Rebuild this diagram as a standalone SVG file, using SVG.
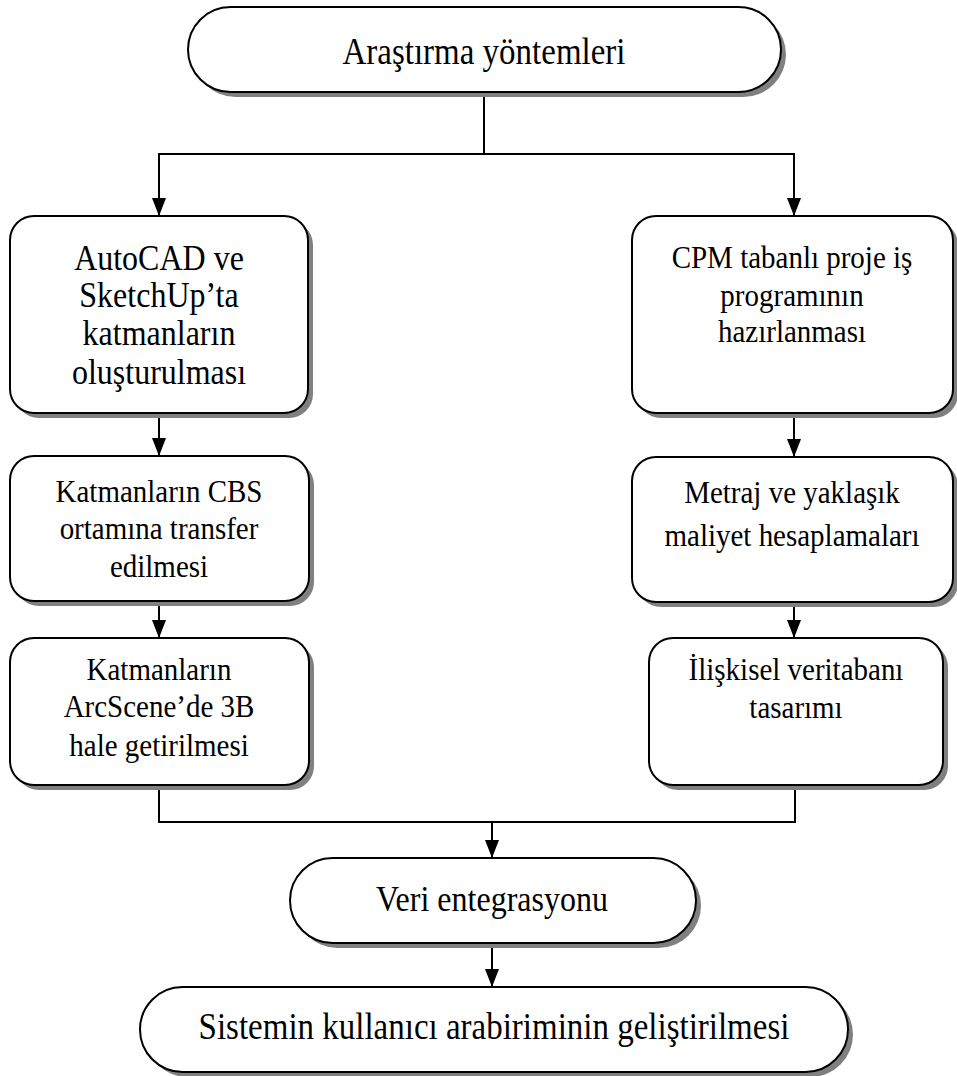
<svg xmlns="http://www.w3.org/2000/svg" width="957" height="1076" viewBox="0 0 957 1076">
  <style>
    .box { fill: #ffffff; stroke: #000000; stroke-width: 2; }
    .shadow { fill: #808080; stroke: none; }
    .lbl { font-family: "Liberation Serif", "Times New Roman", serif; fill: #000000; text-anchor: middle; }
    .f33 { font-size: 33px; }
    .f32 { font-size: 32px; }
    .f29 { font-size: 29px; }
    .wire { fill: none; stroke: #000000; stroke-width: 2; }
  </style>
  <defs>
    <marker id="head" markerUnits="userSpaceOnUse" markerWidth="18" markerHeight="14" refX="18" refY="7" orient="auto" viewBox="0 0 18 14">
      <path d="M0,0 L18,7 L0,14 Z" fill="#000000"/>
    </marker>
  </defs>

  <!-- connectors -->
  <g id="connectors">
    <path class="wire" d="M484,92 V154 M159,154 H794"/>
    <path class="wire" d="M159,153 V216" marker-end="url(#head)"/>
    <path class="wire" d="M794,153 V216" marker-end="url(#head)"/>
    <path class="wire" d="M159,413 V456" marker-end="url(#head)"/>
    <path class="wire" d="M794,413 V457" marker-end="url(#head)"/>
    <path class="wire" d="M159,601 V638" marker-end="url(#head)"/>
    <path class="wire" d="M794,602 V638" marker-end="url(#head)"/>
    <path class="wire" d="M159,785 V822 H795 V785"/>
    <path class="wire" d="M492,822 V858" marker-end="url(#head)"/>
    <path class="wire" d="M492,943 V987" marker-end="url(#head)"/>
  </g>

  <!-- start terminal -->
  <g id="node-arastirma">
    <rect class="shadow" x="193" y="12" width="593" height="85" rx="42.5"/>
    <rect class="box" x="188" y="7" width="593" height="85" rx="42.5"/>
    <text class="lbl f33" transform="translate(484,64) scale(1,1.12)">Araştırma yöntemleri</text>
  </g>

  <!-- left branch -->
  <g id="node-autocad">
    <rect class="shadow" x="15" y="221" width="298" height="197" rx="24"/>
    <rect class="box" x="10" y="216" width="298" height="197" rx="24"/>
    <text class="lbl f32" transform="translate(159,270) scale(1,1.12)">AutoCAD ve</text>
    <text class="lbl f32" transform="translate(159,307) scale(1,1.12)">SketchUp’ta</text>
    <text class="lbl f32" transform="translate(159,345) scale(1,1.12)">katmanların</text>
    <text class="lbl f32" transform="translate(159,384) scale(1,1.12)">oluşturulması</text>
  </g>

  <g id="node-cbs-transfer">
    <rect class="shadow" x="15" y="461" width="299" height="145" rx="24"/>
    <rect class="box" x="10" y="456" width="299" height="145" rx="24"/>
    <text class="lbl f29" transform="translate(159,502) scale(1,1.12)">Katmanların CBS</text>
    <text class="lbl f29" transform="translate(159,539) scale(1,1.12)">ortamına transfer</text>
    <text class="lbl f29" transform="translate(159,577) scale(1,1.12)">edilmesi</text>
  </g>

  <g id="node-arcscene">
    <rect class="shadow" x="15" y="643" width="299" height="147" rx="24"/>
    <rect class="box" x="10" y="638" width="299" height="147" rx="24"/>
    <text class="lbl f29" transform="translate(159,680) scale(1,1.12)">Katmanların</text>
    <text class="lbl f29" transform="translate(159,717) scale(1,1.12)">ArcScene’de 3B</text>
    <text class="lbl f29" transform="translate(159,756) scale(1,1.12)">hale getirilmesi</text>
  </g>

  <!-- right branch -->
  <g id="node-cpm">
    <rect class="shadow" x="637" y="221" width="321" height="197" rx="24"/>
    <rect class="box" x="632" y="216" width="321" height="197" rx="24"/>
    <text class="lbl f29" transform="translate(792,268) scale(1,1.12)">CPM tabanlı proje iş</text>
    <text class="lbl f29" transform="translate(792,306) scale(1,1.12)">programının</text>
    <text class="lbl f29" transform="translate(792,342) scale(1,1.12)">hazırlanması</text>
  </g>

  <g id="node-metraj">
    <rect class="shadow" x="637" y="462" width="321" height="145" rx="24"/>
    <rect class="box" x="632" y="457" width="321" height="145" rx="24"/>
    <text class="lbl f29" transform="translate(792,503) scale(1,1.12)">Metraj ve yaklaşık</text>
    <text class="lbl f29" transform="translate(792,546) scale(1,1.12)">maliyet hesaplamaları</text>
  </g>

  <g id="node-veritabani">
    <rect class="shadow" x="654" y="643" width="294" height="147" rx="24"/>
    <rect class="box" x="649" y="638" width="294" height="147" rx="24"/>
    <text class="lbl f29" transform="translate(796,680) scale(1,1.12)">İlişkisel veritabanı</text>
    <text class="lbl f29" transform="translate(796,718) scale(1,1.12)">tasarımı</text>
  </g>

  <!-- merge and finish -->
  <g id="node-entegrasyon">
    <rect class="shadow" x="295" y="863" width="406" height="85" rx="42.5"/>
    <rect class="box" x="290" y="858" width="406" height="85" rx="42.5"/>
    <text class="lbl f32" transform="translate(492,911) scale(1,1.12)">Veri entegrasyonu</text>
  </g>

  <g id="node-arabirim">
    <rect class="shadow" x="145" y="992" width="708" height="85" rx="42.5"/>
    <rect class="box" x="140" y="987" width="708" height="85" rx="42.5"/>
    <text class="lbl f33" transform="translate(494,1039) scale(1,1.12)">Sistemin kullanıcı arabiriminin geliştirilmesi</text>
  </g>
</svg>
